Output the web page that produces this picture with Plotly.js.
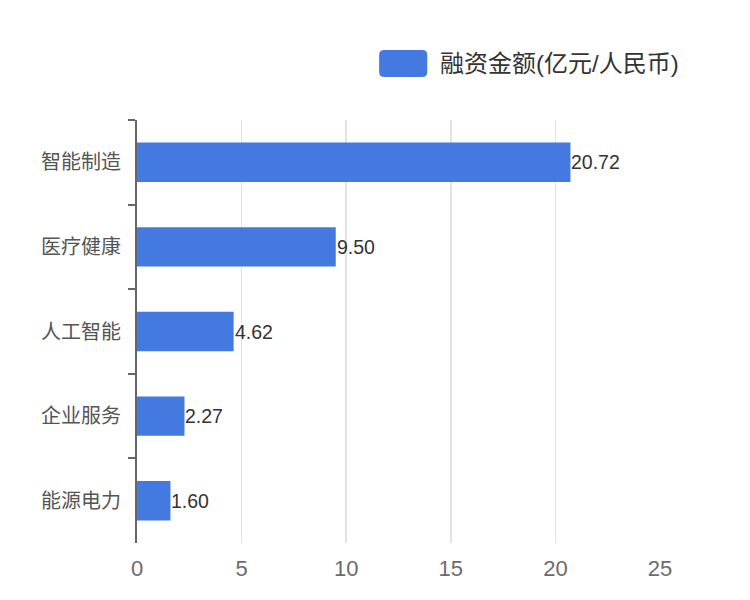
<!DOCTYPE html>
<html>
<head>
<meta charset="utf-8">
<script src="https://cdn.plot.ly/plotly-3.0.1.min.js"></script>
<style>html,body{margin:0;padding:0;background:#fff;}#chart{width:750px;height:600px;}</style>
</head>
<body>
<div id="chart"></div>
<script>
const categories = ["智能制造", "医疗健康", "人工智能", "企业服务", "能源电力"];
const values = [20.72, 9.50, 4.62, 2.27, 1.60];
const seriesName = "融资金额(亿元/人民币)";
const xTicks = [0, 5, 10, 15, 20, 25];

const FONT = "Liberation Sans, Arial, Noto Sans CJK SC, sans-serif";
const BAR = "#447ae0";

const trace = {
  type: "bar",
  orientation: "h",
  x: values,
  y: categories,
  name: seriesName,
  width: 0.466,
  marker: {color: BAR},
  hoverinfo: "x+y",
  showlegend: false
};

// value labels anchored at the bar ends through the data axes
const valueLabels = values.map((v, i) => ({
  xref: "x", yref: "y",
  x: v, y: categories[i],
  xanchor: "left", yanchor: "middle",
  text: v.toFixed(2), showarrow: false,
  xshift: -1,
  font: {family: FONT, size: 19.5, color: "#333"}
}));

// legend swatch (rounded rect) in paper coordinates
const x0 = 0.463, x1 = 0.555, y0 = 1.1017, y1 = 1.1655, rx = 0.0096, ry = 0.0118;
const swatchPath = `M ${x0+rx} ${y0} L ${x1-rx} ${y0} Q ${x1} ${y0} ${x1} ${y0+ry} L ${x1} ${y1-ry} Q ${x1} ${y1} ${x1-rx} ${y1} L ${x0+rx} ${y1} Q ${x0} ${y1} ${x0} ${y1-ry} L ${x0} ${y0+ry} Q ${x0} ${y0} ${x0+rx} ${y0} Z`;

const layout = {
  width: 750, height: 600,
  margin: {l: 137, r: 90, t: 120, b: 57},
  paper_bgcolor: "#fff", plot_bgcolor: "#fff",
  font: {family: FONT},
  showlegend: false,
  xaxis: {
    range: [0, 25],
    tickvals: xTicks,
    ticktext: xTicks.map(String),
    showgrid: true,
    gridcolor: "#e2e2e2",
    gridwidth: 1.5,
    zeroline: false,
    showline: false,
    ticks: "",
    ticklabelstandoff: 10,
    tickfont: {family: FONT, size: 22, color: "#6b6b6b"},
    fixedrange: true
  },
  yaxis: {
    type: "category",
    autorange: "reversed",
    showgrid: false,
    zeroline: false,
    showline: true,
    linecolor: "#666",
    linewidth: 2,
    ticks: "outside",
    tickson: "boundaries",
    ticklen: 7,
    tickwidth: 2,
    tickcolor: "#666",
    ticklabelstandoff: 10,
    tickfont: {family: "Noto Sans CJK SC, sans-serif", size: 20, color: "#555"},
    fixedrange: true
  },
  shapes: [{
    type: "path", xref: "paper", yref: "paper",
    path: swatchPath,
    fillcolor: BAR, line: {width: 0}
  }],
  annotations: valueLabels.concat([{
    xref: "paper", yref: "paper",
    x: 0.576, y: 1.1336, xanchor: "left", yanchor: "middle",
    text: seriesName, showarrow: false,
    font: {family: "Liberation Sans, Noto Sans CJK SC, sans-serif", size: 24, color: "#333"}
  }])
};

Plotly.newPlot("chart", [trace], layout, {displayModeBar: false, staticPlot: true});
</script>
</body>
</html>
